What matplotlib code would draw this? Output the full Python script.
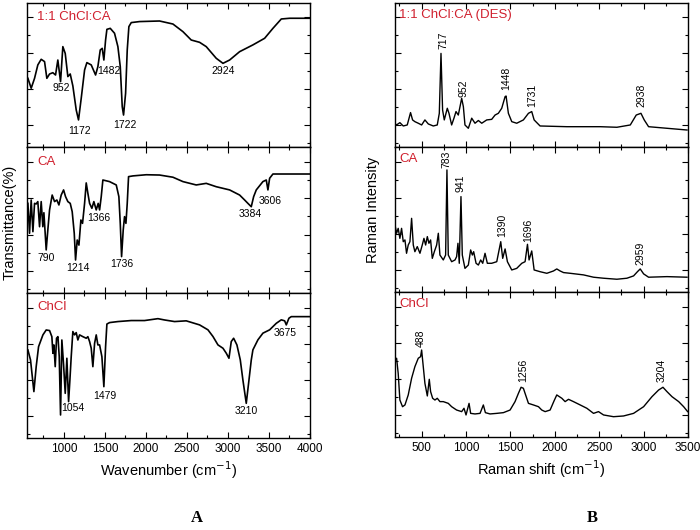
import matplotlib
matplotlib.use("Agg")
import matplotlib.pyplot as plt
from matplotlib.ticker import MultipleLocator, NullFormatter

plt.rcParams['font.family'] = ['Liberation Sans', 'DejaVu Sans']

# ---- FTIR (panel A) ----
des_ir_x = [561, 601, 642, 682, 723, 764, 792, 825, 865, 898, 926, 959, 987, 1016, 1048, 1077, 1109, 1150, 1178, 1211,
            1252, 1280, 1333, 1386, 1414, 1443, 1467, 1487, 1508, 1524, 1565, 1617, 1658, 1687, 1711, 1727, 1752, 1772,
            1792, 1821, 1922, 2166, 2329, 2451, 2552, 2654, 2735, 2857, 2939, 3020, 3142, 3304, 3447, 3548, 3650, 3752, 3995]
des_ir_y = [32.7, 25.8, 32.7, 42.0, 45.9, 44.3, 32.7, 35.7, 36.6, 35.0, 45.4, 30.4, 54.7, 50.0, 33.9, 35.7, 27.4, 10.7, 3.8, 18.8,
            38.5, 43.6, 42.0, 35.0, 40.8, 52.4, 53.5, 45.4, 59.3, 66.7, 67.4, 64.0, 54.7, 40.8, 13.0, 7.2, 22.3, 52.4,
            68.6, 71.4, 72.1, 72.5, 70.4, 65.1, 59.3, 57.7, 54.7, 46.6, 43.1, 45.4, 51.2, 55.9, 60.5, 67.4, 73.9, 74.4, 74.4]

ca_ir_x = [561, 581, 601, 622, 642, 662, 682, 703, 723, 743, 756, 784, 804, 825, 857, 886, 914, 939, 967, 996,
           1020, 1048, 1077, 1101, 1126, 1142, 1162, 1183, 1207, 1227, 1252, 1272, 1292, 1313, 1341, 1365, 1394, 1418, 1435, 1455,
           1475, 1556, 1638, 1670, 1687, 1703, 1723, 1739, 1756, 1772, 1788, 1841, 2004, 2166, 2329, 2451, 2613, 2735, 2857, 3020,
           3142, 3203, 3243, 3284, 3313, 3345, 3426, 3467, 3487, 3508, 3548, 3995]
ca_ir_y = [46.4, 25.9, 48.7, 27.0, 46.4, 46.0, 47.6, 30.4, 47.6, 30.4, 40.0, 14.5, 28.2, 41.9, 52.1, 47.6, 48.7, 45.3, 52.1, 55.6,
           51.0, 47.6, 46.4, 40.7, 25.9, 7.6, 21.3, 17.8, 35.0, 32.7, 46.4, 60.4, 53.3, 46.4, 43.0, 47.6, 41.9, 46.4, 41.9, 51.0,
           62.4, 61.3, 59.0, 51.0, 32.7, 9.9, 28.2, 37.3, 32.7, 46.4, 64.7, 65.2, 66.0, 65.8, 64.3, 61.3, 59.0, 60.1, 57.8, 55.6,
           52.1, 48.7, 46.4, 44.1, 51.0, 55.6, 61.3, 62.4, 55.6, 63.6, 66.5, 66.5]

chcl_ir_x = [561, 593, 634, 662, 691, 744, 784, 825, 853, 866, 878, 894, 910, 927, 943, 959, 975, 996, 1016, 1036,
             1057, 1073, 1089, 1109, 1130, 1150, 1170, 1191, 1231, 1272, 1292, 1313, 1333, 1353, 1374, 1394, 1414, 1435, 1463, 1487,
             1508, 1524, 1557, 1658, 1821, 1983, 2146, 2227, 2349, 2491, 2654, 2756, 2817, 2878, 2939, 2979, 3012, 3040, 3069, 3109,
             3150, 3182, 3223, 3256, 3284, 3304, 3365, 3426, 3508, 3589, 3650, 3691, 3711, 3743, 3772, 3995]
chcl_ir_y = [45.7, 38.8, 17.0, 34.2, 48.0, 56.1, 59.5, 59.1, 54.9, 43.4, 49.2, 34.2, 53.8, 54.9, 41.1, 0.9, 52.6, 35.4, 15.8, 40.0,
             10.1, 25.0, 41.1, 58.4, 56.1, 57.7, 52.6, 56.1, 54.9, 53.8, 54.9, 51.5, 46.9, 34.2, 50.3, 56.1, 49.2, 49.2, 41.1, 20.4,
             48.0, 63.6, 64.6, 65.3, 66.0, 66.0, 67.3, 66.4, 65.3, 65.8, 63.0, 59.6, 55.0, 49.2, 46.9, 43.5, 40.0, 51.5, 53.8, 49.2,
             38.9, 25.0, 8.9, 25.0, 38.8, 45.8, 52.7, 57.3, 59.6, 64.1, 66.5, 65.8, 63.0, 67.6, 68.7, 68.7]

des_ir_lab = ['952', '1172', '1482', '1722', '2924']
des_ir_lx = [967, 1191, 1548, 1739, 2947]
des_ir_ly = [26.2, -4.0, 37.8, 0.0, 37.8]
ca_ir_lab = ['790', '1214', '1366', '1736', '3384', '3606']
ca_ir_lx = [784, 1170, 1426, 1707, 3272, 3516]
ca_ir_ly = [9.0, 2.1, 36.7, 4.8, 39.1, 48.0]
chcl_ir_lab = ['1054', '1479', '3210', '3675']
chcl_ir_lx = [1109, 1496, 3223, 3703]
chcl_ir_ly = [5.5, 14.0, 3.9, 57.7]

# ---- Raman (panel B) ----
des_ram_x = [205, 217, 255, 293, 338, 375, 398, 424, 462, 500, 537, 575, 631, 676, 699, 718, 736, 755, 789, 808,
             838, 864, 887, 913, 951, 970, 988, 1026, 1064, 1101, 1139, 1177, 1233, 1289, 1327, 1364, 1402, 1440, 1451, 1477,
             1515, 1571, 1646, 1703, 1740, 1767, 1834, 2135, 2323, 2511, 2699, 2850, 2917, 2970, 3007, 3056, 3263, 3489]
des_ram_y = [1.0, 0.3, 1.9, -0.4, 0.3, 8.9, 3.8, 2.6, 1.5, 0.3, 3.8, 1.0, -0.4, 0.3, 8.4, 50.0, 10.7, 3.8, 11.9, 8.4,
             0.3, 5.0, 9.6, 7.2, 18.8, 13.0, 0.3, -2.0, 5.0, 1.5, 3.4, 1.5, 3.8, 4.2, 7.2, 8.4, 11.9, 20.0, 20.4, 8.4,
             2.6, 1.5, 3.8, 8.4, 9.6, 3.8, -0.4, -0.9, -0.9, -0.9, -1.3, 0.3, 7.2, 8.4, 3.8, -0.9, -2.0, -3.2]

ca_ram_x = [200, 218, 236, 255, 274, 293, 312, 330, 349, 368, 387, 406, 424, 451, 481, 507, 526, 545, 564, 582,
            601, 620, 643, 669, 688, 706, 744, 770, 785, 800, 838, 876, 894, 909, 924, 943, 958, 988, 1026, 1052,
            1071, 1086, 1113, 1139, 1165, 1188, 1214, 1240, 1289, 1346, 1391, 1413, 1440, 1466, 1515, 1571, 1628, 1665, 1692, 1710,
            1740, 1767, 1834, 1910, 1985, 2022, 2060, 2098, 2173, 2323, 2436, 2549, 2699, 2812, 2887, 2932, 2962, 3000, 3056, 3263,
            3489]
ca_ram_y = [31.2, 25.5, 28.9, 22.0, 28.9, 19.7, 20.9, 11.7, 17.4, 19.7, 35.8, 17.4, 12.8, 16.3, 11.7, 17.4, 22.0, 17.4, 23.2, 18.6,
            20.9, 8.2, 12.8, 17.4, 25.5, 10.5, 7.1, 10.5, 69.2, 10.5, 5.9, 7.1, 9.4, 18.6, 4.8, 50.8, 10.5, 1.3, 3.6, 14.0,
            10.5, 12.8, 4.8, 3.6, 7.1, 4.8, 11.7, 4.8, 4.8, 5.9, 19.7, 8.2, 14.7, 5.9, 0.2, 1.3, 4.8, 5.9, 17.9, 7.1,
            13.3, 0.2, -1.0, -2.1, -0.5, 0.9, -0.5, -1.6, -2.1, -3.2, -4.8, -5.5, -6.2, -5.5, -3.9, -0.9, 0.9, -2.5, -4.8, -4.4,
            -4.8]

chcl_ram_x = [203, 218, 236, 255, 285, 312, 349, 387, 424, 462, 488, 500, 511, 537, 564, 586, 601, 624, 650, 676,
              706, 744, 800, 838, 894, 951, 977, 1000, 1034, 1052, 1101, 1158, 1195, 1218, 1270, 1346, 1421, 1496, 1552, 1590,
              1620, 1646, 1665, 1703, 1759, 1816, 1853, 1891, 1947, 1992, 2022, 2079, 2116, 2154, 2210, 2286, 2361, 2436, 2492, 2549,
              2661, 2774, 2887, 3000, 3094, 3169, 3218, 3263, 3320, 3395, 3451, 3496]
chcl_ram_y = [38.1, 39.3, 28.9, 10.5, 5.9, 7.1, 14.0, 25.5, 33.5, 39.3, 40.4, 45.0, 38.1, 22.0, 13.3, 24.8, 16.3, 11.7, 10.5, 11.7,
              9.4, 9.4, 8.2, 5.9, 3.6, 2.5, 4.8, 0.2, 8.2, 1.3, 0.9, 1.3, 7.1, 1.8, 0.9, 1.3, 1.8, 3.6, 9.4, 15.1,
              19.3, 18.6, 15.1, 8.2, 7.1, 5.9, 3.6, 2.5, 3.6, 10.0, 14.0, 11.7, 9.4, 11.0, 9.4, 7.1, 4.8, 1.3, 2.5, 0.2,
              -1.0, -0.5, 1.3, 5.9, 12.8, 17.4, 19.3, 16.3, 12.8, 9.4, 5.9, 2.5]

des_ram_lab = ['717', '952', '1448', '1731', '2938']
des_ram_lx = [744, 970, 1458, 1740, 2970]
des_ram_ly = [52.8, 20.0, 24.6, 13.0, 13.0]
ca_ram_lab = ['783', '941', '1390', '1696', '2959']
ca_ram_lx = [782, 943, 1402, 1703, 2962]
ca_ram_ly = [70.3, 54.2, 23.2, 19.7, 3.7]
chcl_ram_lab = ['488', '1256', '3204']
chcl_ram_lx = [488, 1639, 3207]
chcl_ram_ly = [47.3, 23.2, 23.2]

names_ir = ['1:1 ChCl:CA', 'CA', 'ChCl']
names_ram = ['1:1 ChCl:CA (DES)', 'CA', 'ChCl']

red = '#d0202e'
W, H = 700, 530
fig = plt.figure(figsize=(7, 5.3), dpi=100)


def make_ax(left, top, right, bottom):
    ax = fig.add_axes([left / W, 1 - bottom / H, (right - left) / W, (bottom - top) / H])
    ax.set_ylim(-15, 85)
    ax.yaxis.set_major_locator(MultipleLocator(25))
    ax.yaxis.set_minor_locator(MultipleLocator(12.5))
    ax.yaxis.set_major_formatter(NullFormatter())
    ax.tick_params(which='both', direction='in', top=True, right=True, width=0.8)
    ax.tick_params(which='major', length=4, labelsize=8.5)
    ax.tick_params(which='minor', length=2)
    for s in ax.spines.values():
        s.set_linewidth(1.0)
    return ax


ir_rows = [(3, 147), (147, 293), (293, 438)]
ram_rows = [(3, 147), (147, 292), (292, 437)]

ir_data = [(des_ir_x, des_ir_y, des_ir_lab, des_ir_lx, des_ir_ly),
           (ca_ir_x, ca_ir_y, ca_ir_lab, ca_ir_lx, ca_ir_ly),
           (chcl_ir_x, chcl_ir_y, chcl_ir_lab, chcl_ir_lx, chcl_ir_ly)]
ram_data = [(des_ram_x, des_ram_y, des_ram_lab, des_ram_lx, des_ram_ly),
            (ca_ram_x, ca_ram_y, ca_ram_lab, ca_ram_lx, ca_ram_ly),
            (chcl_ram_x, chcl_ram_y, chcl_ram_lab, chcl_ram_lx, chcl_ram_ly)]

for i, (top, bot) in enumerate(ir_rows):
    ax = make_ax(27, top, 310, bot)
    x, y, lab, lx, ly = ir_data[i]
    ax.plot(x, y, color='black', lw=1.2)
    ax.set_xlim(550, 4000)
    ax.xaxis.set_major_locator(MultipleLocator(500))
    ax.xaxis.set_minor_locator(MultipleLocator(250))
    for t, tx, ty in zip(lab, lx, ly):
        ax.text(tx, ty, t, fontsize=7.5, ha='center', va='center')
    ax.text(0.035, 0.9, names_ir[i], transform=ax.transAxes, color=red, fontsize=9.5, va='center')
    if i < 2:
        ax.tick_params(labelbottom=False)
    else:
        ax.set_xlabel('Wavenumber (cm$^{-1}$)', fontsize=10.5, labelpad=3)

for i, (top, bot) in enumerate(ram_rows):
    ax = make_ax(395, top, 688, bot)
    x, y, lab, lx, ly = ram_data[i]
    ax.plot(x, y, color='black', lw=1.0)
    ax.set_xlim(200, 3500)
    ax.xaxis.set_major_locator(MultipleLocator(500))
    ax.xaxis.set_minor_locator(MultipleLocator(250))
    for t, tx, ty in zip(lab, lx, ly):
        ax.text(tx, ty, t, fontsize=7.5, ha='center', va='bottom', rotation=90)
    ax.text(0.014, 0.915, names_ram[i], transform=ax.transAxes, color=red, fontsize=9.5, va='center')
    if i < 2:
        ax.tick_params(labelbottom=False)
    else:
        ax.set_xlabel('Raman shift (cm$^{-1}$)', fontsize=10.5, labelpad=3)

fig.text(10 / W, 1 - 222 / H, 'Transmittance(%)', rotation=90, ha='center', va='center', fontsize=10.5)
fig.text(373 / W, 1 - 210 / H, 'Raman Intensity', rotation=90, ha='center', va='center', fontsize=10.5)
fig.text(197 / W, 1 - 518 / H, 'A', family='Liberation Serif', weight='bold', fontsize=12, ha='center', va='center')
fig.text(592 / W, 1 - 518 / H, 'B', family='Liberation Serif', weight='bold', fontsize=12, ha='center', va='center')

fig.savefig('out.png', dpi=100)
